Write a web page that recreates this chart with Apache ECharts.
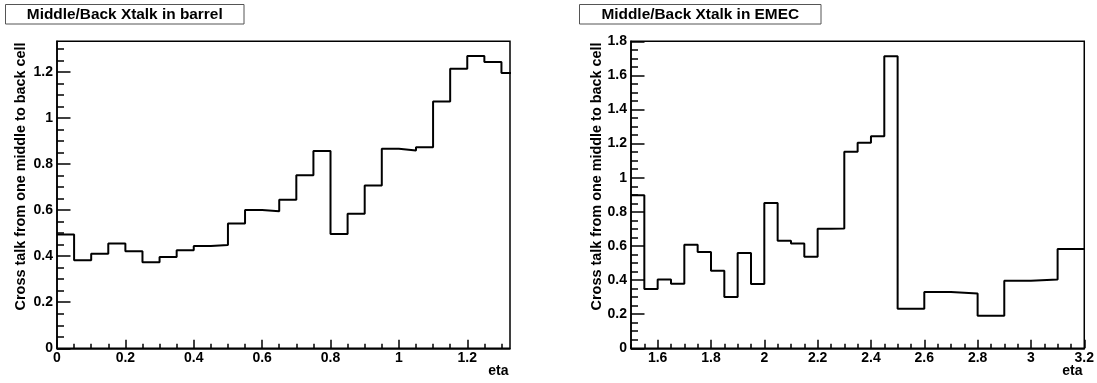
<!DOCTYPE html>
<html>
<head>
<meta charset="utf-8">
<script src="https://cdn.jsdelivr.net/npm/echarts@6/dist/echarts.min.js"></script>
<style>
  html, body { margin: 0; padding: 0; background: #ffffff; }
  #chart { width: 1097px; height: 383px; }
</style>
</head>
<body>
<div id="chart"></div>
<script>
// Barrel: middle -> back cross talk, bins of 0.05 in eta
const barrelEdges = [0, 0.05, 0.1, 0.15, 0.2, 0.25, 0.3, 0.35, 0.4, 0.45, 0.5, 0.55, 0.6, 0.65,
  0.7, 0.75, 0.8, 0.85, 0.9, 0.95, 1.0, 1.05, 1.1, 1.15, 1.2, 1.25, 1.3, 1.35];
const barrelValues = [0.494, 0.382, 0.410, 0.455, 0.421, 0.374, 0.396, 0.426, 0.444, 0.449,
  0.542, 0.600, 0.595, 0.645, 0.751, 0.857, 0.496, 0.584, 0.707, 0.866,
  0.859, 0.873, 1.072, 1.214, 1.269, 1.243, 1.195];

// EMEC: finer bins up to 2.5, then 0.1 wide
const emecEdges = [1.5, 1.55, 1.6, 1.65, 1.7, 1.75, 1.8, 1.85, 1.9, 1.95, 2.0, 2.05, 2.1, 2.15,
  2.2, 2.25, 2.3, 2.35, 2.4, 2.45, 2.5, 2.6, 2.7, 2.8, 2.9, 3.0, 3.1, 3.2];
const emecValues = [0.897, 0.348, 0.404, 0.379, 0.607, 0.565, 0.455, 0.301, 0.559, 0.377,
  0.852, 0.631, 0.615, 0.537, 0.701, 0.703, 1.152, 1.205, 1.244, 1.713,
  0.232, 0.330, 0.322, 0.191, 0.396, 0.404, 0.582];

// Tick labels
const barrelXTicks = [0, 0.2, 0.4, 0.6, 0.8, 1, 1.2];
const barrelYTicks = [0, 0.2, 0.4, 0.6, 0.8, 1, 1.2];
const emecXTicks = [1.6, 1.8, 2, 2.2, 2.4, 2.6, 2.8, 3, 3.2];
const emecYTicks = [0, 0.2, 0.4, 0.6, 0.8, 1, 1.2, 1.4, 1.6, 1.8];

const titles = ['Middle/Back Xtalk in barrel', 'Middle/Back Xtalk in EMEC'];
const yTitle = 'Cross talk from one middle to back cell';
const xTitle = 'eta';

const FONT = '"Liberation Sans", Arial, Helvetica, sans-serif';

// small ticks every 0.05 between lo and hi
function minorTicks(lo, hi, step) {
  const out = [];
  for (let k = Math.ceil(lo / step - 1e-9); k * step <= hi + 1e-9; k++) {
    out.push(Math.round(k * step * 1e6) / 1e6);
  }
  return out;
}

// histogram outline: each bin's value held over [edge_i, edge_i+1]
function stepData(edges, values) {
  const pts = values.map((v, i) => [edges[i], v]);
  pts.push([edges[edges.length - 1], values[values.length - 1]]);
  return pts;
}

const ranges = [
  { xmin: 0, xmax: 1.325, ymin: 0, ymax: 1.333 },
  { xmin: 1.5, xmax: 3.2, ymin: 0, ymax: 1.8 }
];
const majorX = [barrelXTicks, emecXTicks];
const majorY = [barrelYTicks, emecYTicks];

const labelStyle = { fontFamily: FONT, fontWeight: 'bold', fontSize: 14, color: '#000' };
const lineBlack = { color: '#000', width: 1.5 };

const xAxes = [], yAxes = [];
[0, 1].forEach(g => {
  const r = ranges[g];
  xAxes.push({
    gridIndex: g, type: 'value', position: 'bottom', min: r.xmin, max: r.xmax,
    axisLine: { show: true, onZero: false, lineStyle: lineBlack },
    axisTick: { show: true, inside: true, length: 8.5, customValues: majorX[g], lineStyle: lineBlack },
    axisLabel: Object.assign({ show: true, margin: 3, customValues: majorX[g] }, labelStyle),
    splitLine: { show: false }
  });
  xAxes.push({
    gridIndex: g, type: 'value', position: 'bottom', min: r.xmin, max: r.xmax,
    axisLine: { show: false },
    axisTick: { show: true, inside: true, length: 4.5, customValues: minorTicks(r.xmin, r.xmax, 0.05), lineStyle: lineBlack },
    axisLabel: { show: false },
    splitLine: { show: false }
  });
  yAxes.push({
    gridIndex: g, type: 'value', position: 'left', min: r.ymin, max: r.ymax,
    axisLine: { show: true, onZero: false, lineStyle: lineBlack },
    axisTick: { show: true, inside: true, length: 13.5, customValues: majorY[g], lineStyle: lineBlack },
    axisLabel: Object.assign({ show: true, margin: 4, customValues: majorY[g] }, labelStyle),
    splitLine: { show: false }
  });
  yAxes.push({
    gridIndex: g, type: 'value', position: 'left', min: r.ymin, max: r.ymax,
    axisLine: { show: false },
    axisTick: { show: true, inside: true, length: 7, customValues: minorTicks(r.ymin, r.ymax, 0.05), lineStyle: lineBlack },
    axisLabel: { show: false },
    splitLine: { show: false }
  });
});

const grids = [
  { left: 57, top: 41.3, right: 587, bottom: 34.7 },
  { left: 631, top: 41.3, right: 12.3, bottom: 34.7 }
].map(g => Object.assign(g, { show: true, borderColor: '#000', borderWidth: 1.5, backgroundColor: 'transparent', containLabel: false }));

const series = [
  { data: stepData(barrelEdges, barrelValues), xAxisIndex: 0, yAxisIndex: 0 },
  { data: stepData(emecEdges, emecValues), xAxisIndex: 2, yAxisIndex: 2 }
].map(s => Object.assign(s, {
  type: 'line', step: 'end', showSymbol: false, symbol: 'none', clip: true,
  lineStyle: { color: '#000', width: 2 }, silent: true
}));

// title boxes, axis titles
const boxes = [{ x: 5.5, w: 238.5 }, { x: 579.5, w: 241.5 }];
const graphic = [];
boxes.forEach((b, i) => {
  graphic.push({
    type: 'rect', shape: { x: b.x, y: 4.5, width: b.w, height: 19.5 },
    style: { fill: '#fff', stroke: '#555', lineWidth: 1 }, z: 10
  });
  graphic.push({
    type: 'text', x: b.x + b.w / 2, y: 14.5, z: 11,
    style: { text: titles[i], fill: '#000', font: 'bold 15.4px ' + FONT, align: 'center', verticalAlign: 'middle' }
  });
});
[{ x: 21, right: 510 }, { x: 597, right: 1084 }].forEach(p => {
  graphic.push({
    type: 'text', x: p.x, y: 42.5, rotation: Math.PI / 2, z: 11,
    style: { text: yTitle, fill: '#000', font: 'bold 14.4px ' + FONT, align: 'right', verticalAlign: 'middle' }
  });
  graphic.push({
    type: 'text', x: p.right - 1.5, y: 371, z: 11,
    style: { text: xTitle, fill: '#000', font: 'bold 14px ' + FONT, align: 'right', verticalAlign: 'middle' }
  });
});

const chart = echarts.init(document.getElementById('chart'), null, { renderer: 'canvas' });
chart.setOption({
  animation: false,
  backgroundColor: '#fff',
  grid: grids,
  xAxis: xAxes,
  yAxis: yAxes,
  series: series,
  graphic: graphic
});
</script>
</body>
</html>
